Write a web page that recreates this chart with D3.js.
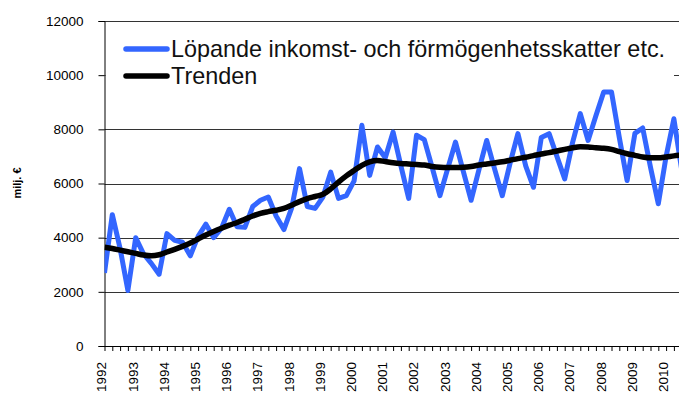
<!DOCTYPE html>
<html>
<head>
<meta charset="utf-8">
<script src="https://cdn.jsdelivr.net/npm/d3@7"></script>
<style>
  body { margin: 0; background: #fff; }
  svg { display: block; font-family: "Liberation Sans", Arial, sans-serif; }
</style>
</head>
<body>
<svg id="chart" width="679" height="401"></svg>
<script>
// years on the category axis (quarterly data, label on first quarter)
const years = [1992, 1993, 1994, 1995, 1996, 1997, 1998, 1999, 2000, 2001,
  2002, 2003, 2004, 2005, 2006, 2007, 2008, 2009, 2010];

// Löpande inkomst- och förmögenhetsskatter etc. (milj. €), per quarter
const taxValues = [
  2700, 4850, 3600, 2050, 4000, 3400, 3050, 2650, 4150, 3900,
  3830, 3330, 4050, 4500, 4000, 4350, 5050, 4400, 4380, 5150,
  5380, 5500, 4800, 4300, 5100, 6550, 5150, 5080, 5500, 6420,
  5450, 5550, 6100, 8150, 6300, 7350, 6950, 7900, 6650, 5450,
  7780, 7620, 6600, 5550, 6550, 7530, 6450, 5380, 6500, 7590,
  6550, 5550, 6750, 7840, 6650, 5860, 7700, 7840, 7000, 6170,
  7500, 8580, 7590, 8500, 9380, 9380, 7700, 6110, 7850, 8050,
  6600, 5250, 7000, 8390, 6500
];

// Trenden
const trendValues = [
  3650, 3600, 3540, 3480, 3420, 3360, 3330, 3370, 3470, 3570,
  3680, 3800, 3950, 4100, 4230, 4350, 4460, 4560, 4680, 4800,
  4900, 4960, 5010, 5080, 5200, 5330, 5440, 5520, 5600, 5800,
  6050, 6280, 6480, 6670, 6800, 6850, 6810, 6770, 6740, 6720,
  6700, 6680, 6630, 6600, 6590, 6590, 6600, 6630, 6680, 6720,
  6760, 6800, 6860, 6920, 6970, 7030, 7090, 7140, 7200, 7260,
  7320, 7360, 7350, 7320, 7300, 7260, 7180, 7100, 7040, 6980,
  6950, 6950, 6980, 7020, 7050
];

const yTicks = [0, 2000, 4000, 6000, 8000, 10000, 12000];
const seriesNames = ["Löpande inkomst- och förmögenhetsskatter etc.", "Trenden"];
const seriesColors = ["#3366ff", "#000000"];

// one category per quarter
const quarters = [];
years.forEach(yr => { for (let q = 1; q <= 4; q++) quarters.push(yr + "K" + q); });
const cats = quarters.slice(0, taxValues.length);

const svg = d3.select("#chart");
const plotLeft = 104.5, plotRight = 679, plotTop = 21, plotBottom = 346;
const step = 7.8;

const x = d3.scalePoint()
  .domain(cats)
  .range([plotLeft, plotLeft + step * (cats.length - 1)]);

const y = d3.scaleLinear()
  .domain([0, 12000])
  .range([plotBottom, plotTop]);

svg.append("defs").append("clipPath").attr("id", "plotclip")
  .append("rect").attr("x", plotLeft).attr("y", 0)
  .attr("width", plotRight - plotLeft).attr("height", plotBottom + 5);

// gridlines
svg.append("g")
  .selectAll("line")
  .data(yTicks.filter(d => d > 0))
  .enter().append("line")
  .attr("x1", plotLeft).attr("x2", plotRight)
  .attr("y1", d => Math.round(y(d)) + 0.5).attr("y2", d => Math.round(y(d)) + 0.5)
  .attr("stroke", "#333").attr("stroke-width", 1);

// legend box (white, hides the 10000 gridline)
svg.append("rect").attr("x", plotLeft + 1).attr("y", plotTop + 1.5)
  .attr("width", 674 - plotLeft - 1).attr("height", 66).attr("fill", "#fff");

// y axis
const yAxis = svg.append("g")
  .attr("transform", `translate(${plotLeft},0)`)
  .call(d3.axisLeft(y).tickValues(yTicks).tickSize(6).tickPadding(15).tickFormat(d3.format("d")));
yAxis.select(".domain").attr("stroke", "#000");
yAxis.selectAll(".tick line").attr("stroke", "#000");
yAxis.selectAll("text").attr("font-size", "13.5px").attr("fill", "#000");

// x axis
const xAxis = svg.append("g")
  .attr("transform", `translate(0,${plotBottom})`)
  .call(d3.axisBottom(x).tickSize(5).tickSizeOuter(0)
    .tickFormat(d => d.endsWith("K1") ? d.slice(0, 4) : ""));
xAxis.select(".domain").attr("stroke", "#000").attr("d", `M${plotLeft},0.5H${plotRight}`);
xAxis.selectAll(".tick line").attr("stroke", "#000");
xAxis.selectAll(".tick").filter(d => x(d) > plotRight).remove();
xAxis.selectAll("text")
  .attr("font-size", "13.5px").attr("fill", "#000")
  .attr("text-anchor", "end")
  .attr("transform", "rotate(-90)")
  .attr("x", -16).attr("y", 0).attr("dy", "0.1em");

// y title
svg.append("text")
  .attr("transform", "translate(21,183) rotate(-90)")
  .attr("text-anchor", "middle")
  .attr("font-size", "11px").attr("font-weight", "bold")
  .text("milj. €");

// series
const line = d3.line().x((d, i) => x(cats[i])).y(d => y(d));
const plot = svg.append("g").attr("clip-path", "url(#plotclip)");
plot.append("path").datum(taxValues)
  .attr("d", line).attr("fill", "none")
  .attr("stroke", seriesColors[0]).attr("stroke-width", 5).attr("stroke-linejoin", "round");
plot.append("path").datum(trendValues)
  .attr("d", d3.line().curve(d3.curveMonotoneX).x((d, i) => x(cats[i])).y(d => y(d)))
  .attr("fill", "none")
  .attr("stroke", seriesColors[1]).attr("stroke-width", 5.5).attr("stroke-linejoin", "round");

// legend entries
const lg = svg.append("g");
seriesNames.forEach((name, i) => {
  const ly = 49 + i * 27;
  lg.append("line").attr("x1", 126).attr("x2", 167).attr("y1", ly).attr("y2", ly)
    .attr("stroke", seriesColors[i]).attr("stroke-width", 5.5).attr("stroke-linecap", "round");
  lg.append("text").attr("x", 171).attr("y", ly + 8)
    .attr("font-size", "23.4px").attr("fill", "#111")
    .text(name);
});
</script>
</body>
</html>
